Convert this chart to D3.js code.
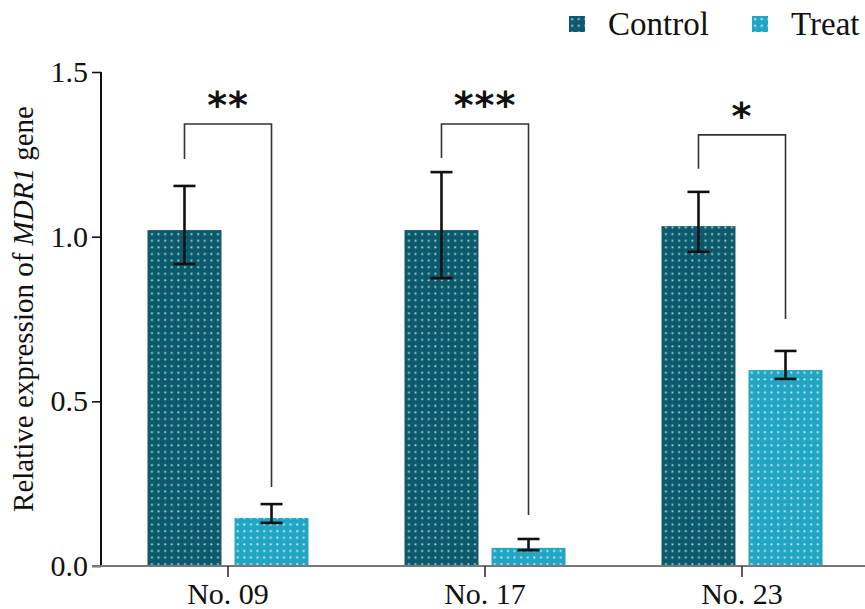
<!DOCTYPE html>
<html>
<head>
<meta charset="utf-8">
<script src="https://cdn.jsdelivr.net/npm/d3@7"></script>
<style>
  html, body { margin: 0; padding: 0; background: #fff; }
  svg { display: block; }
  text { font-family: "Liberation Serif", "Times New Roman", serif; }
</style>
</head>
<body>
<svg id="chart" width="865" height="609"></svg>
<script>
// ---- data ----
const groups = ["No. 09", "No. 17", "No. 23"];
const seriesNames = ["Control", "Treat"];
const controlValues = [1.02, 1.02, 1.032];
const treatValues = [0.146, 0.055, 0.595];
const controlErrLow = [0.917, 0.874, 0.954];
const controlErrHigh = [1.154, 1.196, 1.136];
const treatErrLow = [0.131, 0.048, 0.568];
const treatErrHigh = [0.188, 0.082, 0.653];
const sigLabels = ["**", "***", "*"];
const bracketTop = [1.342, 1.342, 1.309];
const bracketLeftEnd = [1.236, 1.239, 1.206];
const bracketRightEnd = [0.240, 0.155, 0.750];
const yTicks = [0, 0.5, 1.0, 1.5];
const yTickLabels = ["0.0", "0.5", "1.0", "1.5"];

// ---- styles ----
const colors = { Control: "#0c596c", Treat: "#21a5c3" };
const dotColors = { Control: "#9fd2dc", Treat: "#c4f2fa" };

const svg = d3.select("#chart");

// patterns
const defs = svg.append("defs");
seriesNames.forEach(s => {
  const p = defs.append("pattern")
    .attr("id", "pat-" + s)
    .attr("patternUnits", "userSpaceOnUse")
    .attr("width", 6.6).attr("height", 6.6);
  p.append("rect").attr("width", 6.6).attr("height", 6.6).attr("fill", colors[s]);
  p.append("rect").attr("x", 2.2).attr("y", 2.2).attr("width", 1.9).attr("height", 1.9)
    .attr("fill", dotColors[s]);
});

// scales
const y = d3.scaleLinear().domain([0, 1.5]).range([566, 72]);
const x0 = d3.scaleBand().domain(groups).range([99.5, 870.5]).padding(0);
const x1 = d3.scaleBand().domain(seriesNames).range([-80.5, 80.5]).paddingInner(0.15).paddingOuter(0);
const cx = g => x0(g) + x0.bandwidth() / 2;

const rows = groups.map((g, i) => ({
  group: g,
  bars: [
    { s: "Control", v: controlValues[i], lo: controlErrLow[i], hi: controlErrHigh[i] },
    { s: "Treat", v: treatValues[i], lo: treatErrLow[i], hi: treatErrHigh[i] }
  ]
}));

// bars
const gGroups = svg.append("g").selectAll("g").data(rows).join("g")
  .attr("transform", d => `translate(${cx(d.group)},0)`);

gGroups.selectAll("rect").data(d => d.bars).join("rect")
  .attr("x", d => x1(d.s))
  .attr("width", x1.bandwidth())
  .attr("y", d => y(d.v))
  .attr("height", d => y(0) - y(d.v))
  .attr("fill", d => `url(#pat-${d.s})`);

// error bars
const capW = 11;
const eb = gGroups.selectAll("g.eb").data(d => d.bars).join("g").attr("class", "eb")
  .attr("stroke", "#111").attr("stroke-width", 2.6).attr("fill", "none");
eb.append("line")
  .attr("x1", d => x1(d.s) + x1.bandwidth() / 2).attr("x2", d => x1(d.s) + x1.bandwidth() / 2)
  .attr("y1", d => y(d.lo)).attr("y2", d => y(d.hi));
eb.append("line")
  .attr("x1", d => x1(d.s) + x1.bandwidth() / 2 - capW).attr("x2", d => x1(d.s) + x1.bandwidth() / 2 + capW)
  .attr("y1", d => y(d.hi)).attr("y2", d => y(d.hi));
eb.append("line")
  .attr("x1", d => x1(d.s) + x1.bandwidth() / 2 - capW).attr("x2", d => x1(d.s) + x1.bandwidth() / 2 + capW)
  .attr("y1", d => y(d.lo)).attr("y2", d => y(d.lo));

// significance brackets
groups.forEach((g, i) => {
  const xl = cx(g) + x1("Control") + x1.bandwidth() / 2;
  const xr = cx(g) + x1("Treat") + x1.bandwidth() / 2;
  svg.append("path")
    .attr("d", d3.line()([[xl, y(bracketLeftEnd[i])], [xl, y(bracketTop[i])], [xr, y(bracketTop[i])], [xr, y(bracketRightEnd[i])]]))
    .attr("fill", "none").attr("stroke", "#333").attr("stroke-width", 1.6);
  svg.append("text")
    .attr("x", (xl + xr) / 2)
    .attr("y", y(bracketTop[i]) - 6)
    .attr("text-anchor", "middle")
    .style("font-family", "'DejaVu Sans', sans-serif")
    .style("font-weight", "bold")
    .style("font-size", "38px")
    .style("letter-spacing", "1px")
    .attr("fill", "#111")
    .text(sigLabels[i]);
});

// y axis
const yAxis = svg.append("g").attr("transform", "translate(101,0)")
  .call(d3.axisLeft(y).tickValues(yTicks).tickFormat((d, i) => yTickLabels[i]).tickSize(9).tickPadding(4));
yAxis.select(".domain").attr("stroke", "#111").attr("stroke-width", 2)
  .attr("d", `M0,${y(1.5)}V${y(0)}`);
yAxis.selectAll(".tick line").attr("stroke", "#111").attr("stroke-width", 1.6);
yAxis.selectAll(".tick text")
  .style("font-family", "'Liberation Serif', 'Times New Roman', serif")
  .style("font-size", "30px").attr("fill", "#111");

// x axis
const xAxis = svg.append("g").attr("transform", `translate(0,${y(0)})`)
  .call(d3.axisBottom(x0).tickSize(11).tickPadding(6));
xAxis.select(".domain").attr("stroke", "#777").attr("stroke-width", 2)
  .attr("d", `M92,0H865`);
xAxis.selectAll(".tick line").attr("stroke", "#333").attr("stroke-width", 1.6);
xAxis.selectAll(".tick text")
  .style("font-family", "'Liberation Serif', 'Times New Roman', serif")
  .style("font-size", "30px").attr("fill", "#111");

// y label
const yl = svg.append("text")
  .attr("transform", `translate(33,309) rotate(-90)`)
  .attr("text-anchor", "middle")
  .style("font-size", "29px").attr("fill", "#111");
yl.append("tspan").text("Relative expression of ");
yl.append("tspan").style("font-style", "italic").text("MDR1");
yl.append("tspan").text(" gene");

// legend
const legendX = [569, 752];
const leg = svg.append("g").selectAll("g").data(seriesNames).join("g")
  .attr("transform", (d, i) => `translate(${legendX[i]},16)`);
leg.append("rect").attr("width", 16).attr("height", 16).attr("fill", d => `url(#pat-${d})`);
leg.append("text").attr("x", 39).attr("y", 19)
  .style("font-size", "33px").attr("fill", "#111").text(d => d);
</script>
</body>
</html>
